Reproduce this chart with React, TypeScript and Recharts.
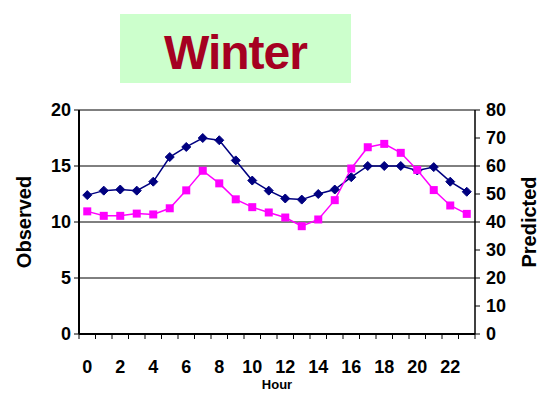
import { LineChart, Line, XAxis, YAxis, CartesianGrid } from 'recharts';

const HOURS = [0, 1, 2, 3, 4, 5, 6, 7, 8, 9, 10, 11, 12, 13, 14, 15, 16, 17, 18, 19, 20, 21, 22, 23];
const OBSERVED = [12.4, 12.8, 12.9, 12.8, 13.6, 15.8, 16.7, 17.5, 17.3, 15.5, 13.7, 12.8, 12.1, 12.0, 12.5, 12.9, 14.0, 15.0, 15.0, 15.0, 14.6, 14.9, 13.6, 12.7];
const PREDICTED = [43.8, 42.2, 42.2, 43.0, 42.7, 44.9, 51.3, 58.3, 53.8, 48.1, 45.3, 43.4, 41.6, 38.5, 40.9, 47.8, 59.1, 66.7, 67.9, 64.7, 58.6, 51.4, 45.9, 42.9];
const BOUNDARY_TICKS = [-0.5, ...HOURS.map((h) => h + 0.5)];
const HOUR_LABELS = [0, 2, 4, 6, 8, 10, 12, 14, 16, 18, 20, 22];
const LEFT_TICKS = [0, 5, 10, 15, 20];
const RIGHT_TICKS = [0, 10, 20, 30, 40, 50, 60, 70, 80];

const data = HOURS.map((h, i) => ({ hour: h, observed: OBSERVED[i], predicted: PREDICTED[i] }));

const FONT = 'Arial, "Liberation Sans", sans-serif';
const tickStyle = { fill: '#000', fontSize: 18, fontWeight: 'bold', fontFamily: FONT };
const titleStyle = { fill: '#000', fontSize: 20, fontWeight: 'bold', fontFamily: FONT, textAnchor: 'middle' };

function Diamond({ cx, cy }: any) {
  if (cx == null || cy == null) return null;
  const s = 4.5;
  return (
    <polygon
      points={`${cx},${cy - s} ${cx + s},${cy} ${cx},${cy + s} ${cx - s},${cy}`}
      fill="#000080"
      stroke="#000080"
    />
  );
}

function Square({ cx, cy }: any) {
  if (cx == null || cy == null) return null;
  return <rect x={cx - 4} y={cy - 4} width={8} height={8} fill="#ff00ff" />;
}

export default function App() {
  return (
    <div style={{ position: 'absolute', left: 0, top: 0, width: 544, height: 394, background: '#fff' }}>
      <div
        style={{
          position: 'absolute',
          left: 120,
          top: 14,
          width: 231,
          height: 69,
          overflow: 'hidden',
          background: '#ccffcc',
          color: '#a50021',
          fontFamily: FONT,
          fontWeight: 'bold',
          fontSize: 48,
          letterSpacing: -1,
          lineHeight: '77px',
          textAlign: 'center',
        }}
      >
        Winter
      </div>
      <LineChart
        width={544}
        height={394}
        data={data}
        margin={{ top: 110, right: 29, bottom: 30, left: 49 }}
      >
        <CartesianGrid yAxisId="left" vertical={false} stroke="#000" strokeWidth={1} />
        <XAxis
          xAxisId="a"
          dataKey="hour"
          type="number"
          domain={[-0.5, 23.5]}
          ticks={BOUNDARY_TICKS}
          tickFormatter={() => ''}
          tickSize={5}
          height={5}
          axisLine={{ stroke: '#000', strokeWidth: 2 }}
          tickLine={{ stroke: '#000' }}
        />
        <XAxis
          xAxisId="b"
          dataKey="hour"
          type="number"
          domain={[-0.5, 23.5]}
          ticks={HOUR_LABELS}
          interval={0}
          height={25}
          axisLine={false}
          tickLine={false}
          tickSize={0}
          tickMargin={21}
          tick={tickStyle}
          label={{
            value: 'Hour',
            position: 'insideBottom',
            offset: -25,
            style: { fill: '#000', fontSize: 13, fontWeight: 'bold', fontFamily: FONT },
          }}
        />
        <YAxis
          yAxisId="left"
          domain={[0, 20]}
          ticks={LEFT_TICKS}
          width={30}
          tickSize={5}
          tickMargin={3}
          tick={tickStyle}
          axisLine={{ stroke: '#000', strokeWidth: 2 }}
          tickLine={{ stroke: '#000' }}
          label={{ value: 'Observed', angle: -90, position: 'left', offset: 25, style: titleStyle }}
        />
        <YAxis
          yAxisId="right"
          orientation="right"
          domain={[0, 80]}
          ticks={RIGHT_TICKS}
          width={40}
          tickSize={5}
          tickMargin={6}
          tick={tickStyle}
          axisLine={{ stroke: '#000', strokeWidth: 1.5 }}
          tickLine={{ stroke: '#000' }}
          label={{ value: 'Predicted', angle: -90, position: 'right', offset: 14, style: titleStyle }}
        />
        <Line
          xAxisId="a"
          yAxisId="left"
          dataKey="observed"
          stroke="#000080"
          strokeWidth={1.5}
          dot={<Diamond />}
          isAnimationActive={false}
        />
        <Line
          xAxisId="a"
          yAxisId="right"
          dataKey="predicted"
          stroke="#ff00ff"
          strokeWidth={1.5}
          dot={<Square />}
          isAnimationActive={false}
        />
      </LineChart>
    </div>
  );
}
